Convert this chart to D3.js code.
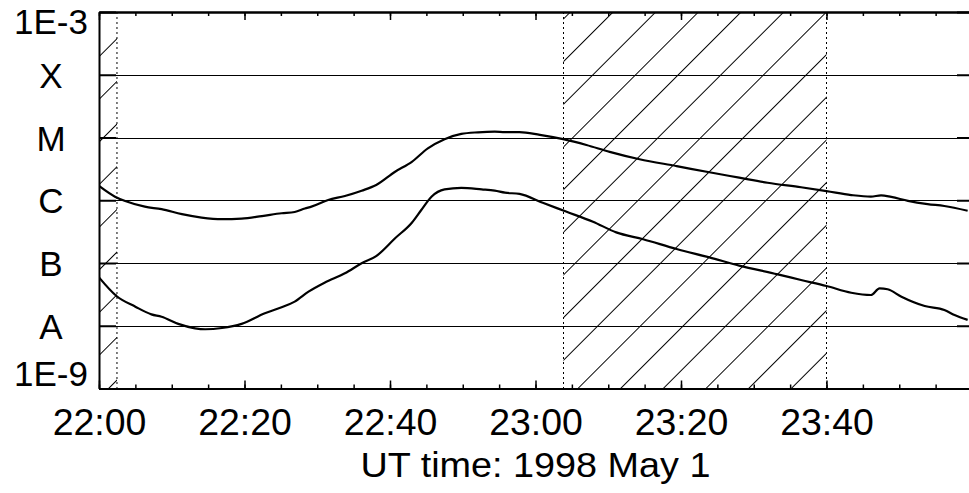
<!DOCTYPE html>
<html>
<head>
<meta charset="utf-8">
<script src="https://cdn.jsdelivr.net/npm/d3@7"></script>
<style>
  body { margin: 0; background: #fff; }
  text { font-family: "Liberation Sans", Arial, sans-serif; fill: #000; }
</style>
</head>
<body>
<svg id="drawing_region"></svg>
<script>
// minutes after 22:00 UT, 1998 May 1
const tLong = [0, 2.2, 3.6, 6.3, 8.6, 11.4, 14.1, 16.9, 19.6, 22.4, 25.1, 26.9, 28.3, 29.2, 31.5, 33.8, 36.1, 38.1,
    40.7, 43.0, 45.2, 47.5, 49.8, 52.1, 54.4, 55.8, 57.8, 60.6, 63.8, 67.0, 70.2, 74.3, 79.4, 83.9, 88.0,
    91.9, 96.5, 100.0, 103.4, 106.1, 107.5, 108.9, 111.2, 113.9, 116.2, 119.4];
const fluxLong = [1.69e-6, 1.14e-6, 9.7e-7, 7.9e-7, 7.2e-7, 6.0e-7, 5.3e-7, 5.0e-7, 5.1e-7, 5.6e-7, 6.2e-7, 6.5e-7, 7.4e-7, 7.9e-7,
    1.01e-6, 1.17e-6, 1.42e-6, 1.75e-6, 2.85e-6, 4.1e-6, 6.7e-6, 9.4e-6, 1.14e-5, 1.21e-5, 1.24e-5, 1.22e-5, 1.22e-5,
    1.10e-5, 9.4e-6, 7.6e-6, 5.9e-6, 4.5e-6, 3.5e-6, 2.79e-6, 2.29e-6, 1.90e-6, 1.61e-6, 1.40e-6, 1.21e-6, 1.14e-6,
    1.20e-6, 1.13e-6, 9.8e-7, 8.7e-7, 8.1e-7, 6.8e-7];

const tShort = [0, 2.4, 5.0, 7.2, 8.6, 10.9, 13.2, 14.6, 16.9, 19.6, 22.8, 25.1, 26.9, 28.8, 31.0, 33.8, 36.1, 38.1,
    40.7, 43.0, 44.3, 45.7, 47.5, 49.8, 52.6, 54.4, 55.8, 57.8, 61.0, 64.2, 67.9, 71.1, 74.8, 79.4, 83.9, 88.0,
    93.3, 96.5, 100.0, 103.4, 106.1, 107.3, 108.4, 110.3, 113.5, 116.2, 117.6, 119.4];
const fluxShort = [5.9e-8, 2.98e-8, 2.01e-8, 1.52e-8, 1.39e-8, 1.07e-8, 9.1e-9, 8.8e-9, 9.2e-9, 1.07e-8, 1.58e-8, 1.97e-8,
    2.42e-8, 3.49e-8, 4.85e-8, 6.85e-8, 9.9e-8, 1.29e-7, 2.48e-7, 4.39e-7, 7.0e-7, 1.14e-6, 1.49e-6, 1.58e-6, 1.49e-6,
    1.42e-6, 1.32e-6, 1.26e-6, 9.1e-7, 6.6e-7, 4.55e-7, 3.08e-7, 2.39e-7, 1.67e-7, 1.23e-7, 9.1e-8, 6.6e-8, 5.36e-8,
    4.30e-8, 3.36e-8, 3.09e-8, 3.95e-8, 3.81e-8, 2.90e-8, 2.06e-8, 1.78e-8, 1.48e-8, 1.24e-8];

// hatched (night) intervals, minutes after 22:00
const nightStart = [-10, 63.85];
const nightEnd = [2.47, 100.0];

const yLevels = [1e-9, 1e-8, 1e-7, 1e-6, 1e-5, 1e-4, 1e-3];
const yLabels = ["1E-9", "A", "B", "C", "M", "X", "1E-3"];
const xLabelFmt = "%H:%M";
const xTitle = "UT time: 1998 May 1";

const base = Date.UTC(1998, 4, 1, 22, 0, 0);
const toDate = m => new Date(base + m * 60000);

const W = 969, H = 493;
const pLeft = 99, pRight = 972, pTop = 12, pBottom = 388.5;

const svg = d3.select('#drawing_region')
    .attr('width', W)
    .attr('height', H);

const xScale = d3.scaleUtc()
    .domain([toDate(0), toDate(120)])
    .range([pLeft, pRight]);

const yScale = d3.scaleLog()
    .domain([1e-9, 1e-3])
    .range([pBottom, pTop]);

// hatch pattern: 45 degree lines
const pw = 42.67 / Math.SQRT2;
const defs = svg.append('defs');
const pat = defs.append('pattern')
    .attr('id', 'hatch')
    .attr('patternUnits', 'userSpaceOnUse')
    .attr('width', pw)
    .attr('height', pw)
    .attr('patternTransform', `rotate(45) translate(4.5,0)`);
pat.append('line')
    .attr('x1', pw / 2).attr('x2', pw / 2)
    .attr('y1', -1).attr('y2', pw + 1)
    .attr('stroke', 'black')
    .attr('stroke-width', 1);

defs.append('clipPath').attr('id', 'plotclip')
    .append('rect')
    .attr('x', pLeft).attr('y', pTop)
    .attr('width', pRight - pLeft).attr('height', pBottom - pTop);

const plot = svg.append('g').attr('clip-path', 'url(#plotclip)');

const nights = nightStart.map((s, i) => ({ s: s, e: nightEnd[i] }));

plot.selectAll('rect.night')
    .data(nights)
    .enter()
    .append('rect')
    .attr('class', 'night')
    .attr('x', d => xScale(toDate(d.s)))
    .attr('y', pTop)
    .attr('width', d => xScale(toDate(d.e)) - xScale(toDate(d.s)))
    .attr('height', pBottom - pTop)
    .attr('fill', 'url(#hatch)');

// level lines A..X
plot.selectAll('line.grid')
    .data(yLevels.slice(1, -1))
    .enter()
    .append('line')
    .attr('x1', pLeft).attr('x2', pRight)
    .attr('y1', d => Math.round(yScale(d)) + 0.5)
    .attr('y2', d => Math.round(yScale(d)) + 0.5)
    .attr('stroke', 'black')
    .attr('stroke-width', 1);

// dotted boundaries of hatched intervals
const edges = [];
nights.forEach(d => { edges.push(d.s); edges.push(d.e); });
plot.selectAll('line.edge')
    .data(edges.filter(m => m > 0 && m < 120))
    .enter()
    .append('line')
    .attr('x1', d => xScale(toDate(d)))
    .attr('x2', d => xScale(toDate(d)))
    .attr('y1', pTop).attr('y2', pBottom)
    .attr('stroke', 'black')
    .attr('stroke-width', 1)
    .attr('stroke-dasharray', '2,3');

const line = d3.line()
    .x(d => xScale(toDate(d[0])))
    .y(d => yScale(d[1]))
    .curve(d3.curveMonotoneX);

[[tLong, fluxLong], [tShort, fluxShort]].forEach(s => {
    plot.append('path')
        .datum(s[0].map((t, i) => [t, s[1][i]]))
        .attr('d', line)
        .attr('fill', 'none')
        .attr('stroke', 'black')
        .attr('stroke-width', 2.2)
        .attr('stroke-linejoin', 'round');
});

// axes
const styleAxis = g => {
    g.select('.domain').attr('stroke-width', 2);
    g.selectAll('.tick line').attr('stroke-width', 1.5);
};

svg.append('g')
    .attr('transform', `translate(0,${pBottom})`)
    .call(d3.axisBottom(xScale).ticks(d3.utcMinute.every(5)).tickSize(-4).tickSizeOuter(0).tickFormat(''))
    .call(styleAxis);

const xAxis = svg.append('g')
    .attr('transform', `translate(0,${pBottom})`)
    .call(d3.axisBottom(xScale).ticks(d3.utcMinute.every(20)).tickSize(-8).tickSizeOuter(0)
        .tickPadding(20.5).tickFormat(d3.utcFormat(xLabelFmt)))
    .call(styleAxis);
xAxis.selectAll('text')
    .attr('font-size', 36)
    .style('font-family', '"Liberation Sans", Arial, sans-serif')
    .attr('transform', 'scale(1.04,1)');
xAxis.selectAll('.tick')
    .filter(d => +d >= +toDate(120))
    .select('text').remove();

svg.append('g')
    .attr('transform', `translate(0,${pTop})`)
    .call(d3.axisTop(xScale).ticks(d3.utcMinute.every(5)).tickSize(-4).tickSizeOuter(0).tickFormat(''))
    .call(styleAxis);
svg.append('g')
    .attr('transform', `translate(0,${pTop})`)
    .call(d3.axisTop(xScale).ticks(d3.utcMinute.every(20)).tickSize(-8).tickSizeOuter(0).tickFormat(''))
    .call(styleAxis);

const yAxis = svg.append('g')
    .attr('transform', `translate(${pLeft},0)`)
    .call(d3.axisLeft(yScale).tickValues(yLevels).tickSize(-17).tickSizeOuter(0)
        .tickFormat((d, i) => yLabels[i]))
    .call(styleAxis);
yAxis.selectAll('.tick line').attr('stroke-width', 2);
yAxis.selectAll('text')
    .attr('font-size', 35)
    .style('font-family', '"Liberation Sans", Arial, sans-serif')
    .attr('text-anchor', 'middle')
    .attr('x', -48)
    .attr('dy', (d, i) => i === 0 ? '-0.1em' : (i === yLevels.length - 1 ? '0.6em' : '0.36em'));

svg.append('g')
    .attr('transform', `translate(${pRight},0)`)
    .call(d3.axisRight(yScale).tickValues(yLevels).tickSize(-15).tickSizeOuter(0).tickFormat(''))
    .call(styleAxis)
    .selectAll('.tick line').attr('stroke-width', 2);

svg.append('text')
    .attr('transform', `translate(${(pLeft + pRight) / 2},477) scale(1.08,1)`)
    .attr('text-anchor', 'middle')
    .attr('font-size', 35)
    .text(xTitle);
</script>
</body>
</html>
